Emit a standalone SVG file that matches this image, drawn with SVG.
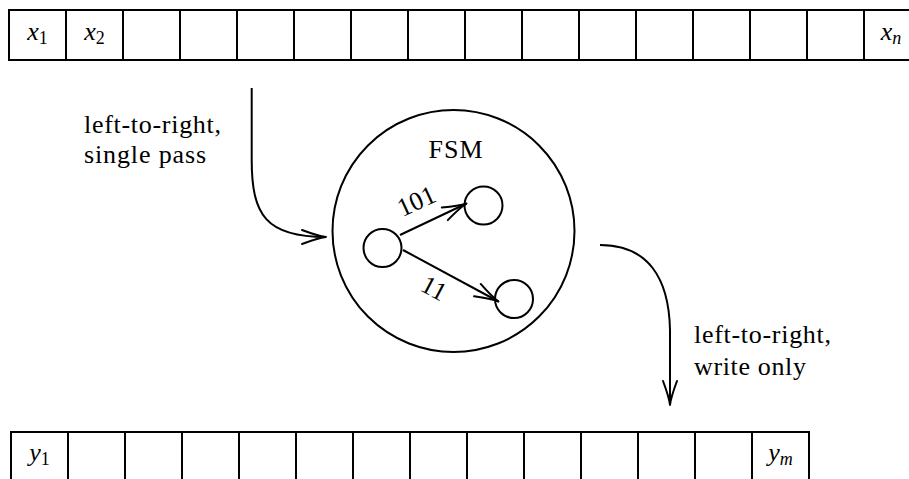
<svg xmlns="http://www.w3.org/2000/svg" width="909" height="479" viewBox="0 0 909 479">
  <style>
    .line { fill: none; stroke: #000; stroke-width: 2; }
    text { font-family: 'Liberation Serif', 'DejaVu Serif', 'Noto Serif', 'Times New Roman', serif; font-size: 26px; fill: #000; }
    .math { text-anchor: middle; }
    .var { font-style: italic; }
    .sub { font-size: 18px; }
    .subi { font-size: 18px; font-style: italic; }
  </style>
  <defs>
    <!-- open "to" style arrowhead -->
    <marker id="to" markerUnits="userSpaceOnUse" markerWidth="30" markerHeight="20" viewBox="-26 -10 30 20" refX="0" refY="0" orient="auto" overflow="visible">
      <path d="M -24 -7 Q -8 -1 0 0 Q -8 1 -24 7" fill="none" stroke="#000" stroke-width="2" stroke-linecap="round" stroke-linejoin="round"/>
    </marker>
  </defs>
  <rect width="909" height="479" fill="#fff"/>

  <!-- input tape -->
  <g id="tape-in">
    <rect class="line" x="9" y="10" width="912" height="50"/>
    <path class="line" d="M66 10V60M123 10V60M180 10V60M237 10V60M294 10V60M351 10V60M408 10V60M465 10V60M522 10V60M579 10V60M636 10V60M693 10V60M750 10V60M807 10V60M864 10V60"/>
    <text class="math" x="37.5" y="40"><tspan class="var">x</tspan><tspan class="sub" dy="4">1</tspan></text>
    <text class="math" x="94.5" y="40"><tspan class="var">x</tspan><tspan class="sub" dy="4">2</tspan></text>
    <text class="math" x="891" y="40"><tspan class="var">x</tspan><tspan class="subi" dy="4">n</tspan></text>
  </g>

  <!-- output tape -->
  <g id="tape-out">
    <rect class="line" x="11" y="432" width="798" height="50"/>
    <path class="line" d="M68 432V482M125 432V482M182 432V482M239 432V482M296 432V482M353 432V482M410 432V482M467 432V482M524 432V482M581 432V482M638 432V482M695 432V482M752 432V482"/>
    <text class="math" x="39.5" y="461"><tspan class="var">y</tspan><tspan class="sub" dy="4">1</tspan></text>
    <text class="math" x="780.5" y="461"><tspan class="var">y</tspan><tspan class="subi" dy="4">m</tspan></text>
  </g>

  <!-- finite state machine -->
  <g id="fsm">
    <circle class="line" cx="453.5" cy="231" r="121"/>
    <text x="455.5" y="158" text-anchor="middle" textLength="54">FSM</text>
  </g>
  <g id="state-start">
    <circle class="line" cx="382.5" cy="248" r="19"/>
  </g>
  <g id="state-a">
    <circle class="line" cx="483.5" cy="205.5" r="19"/>
  </g>
  <g id="state-b">
    <circle class="line" cx="514" cy="299" r="19"/>
  </g>

  <!-- labels -->
  <g id="label-read">
    <text x="84" y="133" textLength="137">left-to-right,</text>
    <text x="84" y="163" textLength="122">single pass</text>
  </g>
  <g id="label-write">
    <text x="694" y="343" textLength="137">left-to-right,</text>
    <text x="694" y="375" textLength="112">write only</text>
  </g>

  <!-- connectors -->
  <g id="connectors">
    <path class="line" d="M251.7 88 L251.7 160 C251.7 215 266 237 326 237" marker-end="url(#to)"/>
    <path class="line" d="M600 245 C648 245 669 278 670 330 L670 405" marker-end="url(#to)"/>
    <path class="line" d="M400 235 L466.5 203.5" marker-end="url(#to)"/>
    <path class="line" d="M403 250 L498.5 301.5" marker-end="url(#to)"/>
    <text x="0" y="0" text-anchor="middle" transform="translate(420 209) rotate(-25)">101</text>
    <text x="0" y="0" text-anchor="middle" transform="translate(430 296) rotate(28)">11</text>
  </g>
</svg>
